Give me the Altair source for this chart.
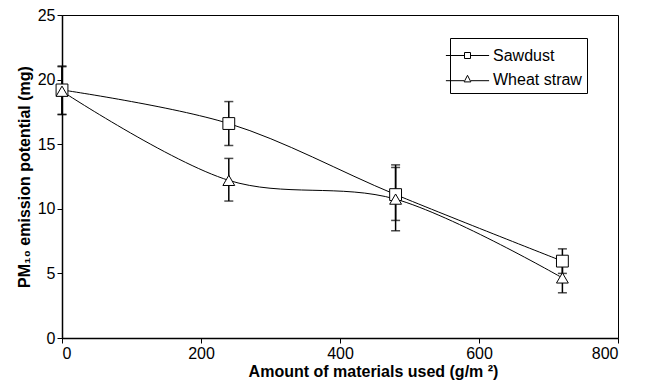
import altair as alt
import pandas as pd

amounts = [0, 240, 480, 720]
series_names = ["Sawdust", "Wheat straw"]
sawdust = [19.2, 16.6, 11.1, 5.95]
sawdust_lo = [17.3, 14.9, 9.1, 5.0]
sawdust_hi = [21.05, 18.3, 13.4, 6.9]
wheat = [19.1, 12.2, 10.75, 4.65]
wheat_lo = [17.3, 10.6, 8.3, 3.5]
wheat_hi = [21.0, 13.9, 13.2, 5.8]

rows = []
for name, vals, lo, hi in [("Sawdust", sawdust, sawdust_lo, sawdust_hi),
                           ("Wheat straw", wheat, wheat_lo, wheat_hi)]:
    for a, v, l, h in zip(amounts, vals, lo, hi):
        rows.append({"amount": a, "series": name, "value": v, "lo": l, "hi": h})
df = pd.DataFrame(rows)

FONT = "Liberation Sans"

x = alt.X("amount:Q", scale=alt.Scale(domain=[0, 800], nice=False),
          axis=alt.Axis(values=[0, 200, 400, 600, 800],
                        title="Amount of materials used (g/m ²)", titleX=311))
y = alt.Y("value:Q", scale=alt.Scale(domain=[0, 25], nice=False),
          axis=alt.Axis(values=[0, 5, 10, 15, 20, 25], title="PM₁₀ emission potential (mg)"))

base = alt.Chart(df)

lines = base.mark_line(color="black", strokeWidth=1, interpolate="catmull-rom").encode(
    x=x, y=y, detail="series:N")

err_rule = base.mark_rule(color="black", strokeWidth=1.5).encode(
    x="amount:Q", y="lo:Q", y2="hi:Q")
err_lo = base.mark_tick(color="black", thickness=1.5, size=9, orient="horizontal").encode(
    x="amount:Q", y="lo:Q")
err_hi = base.mark_tick(color="black", thickness=1.5, size=9, orient="horizontal").encode(
    x="amount:Q", y="hi:Q")

points = base.mark_point(filled=True, fill="white", stroke="black", strokeWidth=1,
                         opacity=1, size=140).encode(
    x="amount:Q", y="value:Q",
    shape=alt.Shape("series:N", scale=alt.Scale(domain=series_names,
                                                range=["square", "triangle-up"]),
                    legend=None))

leg_paths = [
    "M-1.8,0H-0.25M0.25,0H1.8M-0.25,-0.25H0.25V0.25H-0.25Z",
    "M-1.8,0.1H-0.28M0.28,0.1H1.8M0,-0.35L0.28,0.2H-0.28Z",
]
legend_layer = base.mark_point(opacity=0, filled=False).encode(
    x="amount:Q", y="value:Q",
    shape=alt.Shape("series:N",
                    scale=alt.Scale(domain=series_names, range=leg_paths),
                    legend=alt.Legend(title=None, orient="none", legendX=388, legendY=23,
                                      symbolSize=576, symbolOpacity=1,
                                      symbolFillColor="white", symbolStrokeColor="black",
                                      symbolStrokeWidth=1, labelFont=FONT, labelFontSize=16,
                                      labelColor="black", labelOffset=13,
                                      labelExpr="datum.label + '\u00a0\u00a0\u00a0\u00a0'",
                                      strokeColor="black", fillColor="white",
                                      padding=5, rowPadding=3)))

chart = alt.layer(lines, err_rule, err_lo, err_hi, points, legend_layer).resolve_scale(
    shape="independent"
).properties(
    width=556, height=323,
    autosize=alt.AutoSizeParams(type="none"),
    padding={"left": 54, "top": 7, "right": 10, "bottom": 45},
).configure_view(
    stroke="black", strokeWidth=1
).configure_axis(
    domainColor="black", domainWidth=1.5, tickColor="black", tickSize=5, tickWidth=1,
    labelFont=FONT, labelFontSize=16, labelColor="black",
    titleFont=FONT, titleFontSize=16, titleFontWeight="bold", titleColor="black",
    grid=False,
).configure_axisX(labelPadding=2, titlePadding=2).configure_axisY(labelPadding=2, titlePadding=5)

chart.save("out.html", embed_options={"renderer": "svg", "actions": False})
